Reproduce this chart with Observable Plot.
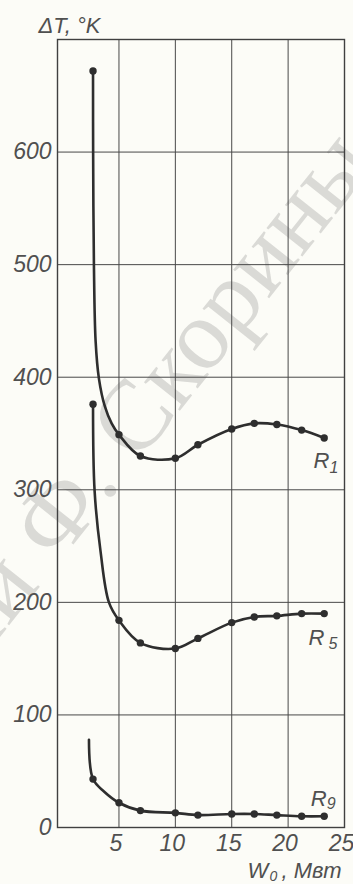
<!DOCTYPE html>
<html><head><meta charset="utf-8">
<script src="https://cdn.jsdelivr.net/npm/d3@7"></script>
<script src="https://cdn.jsdelivr.net/npm/@observablehq/plot@0.6"></script>
<style>html,body{margin:0;padding:0;background:#fcfcf7;overflow:hidden}</style>
</head><body><div id="chart"></div>
<script>
// Marked measurement points (W0, MW) and ΔT (°K) for each resistor curve
const W  = [2.7, 5, 6.9, 10, 12, 15, 17, 19, 21.2, 23.2];
const R1 = [672, 349, 330, 328, 340, 354, 359, 358, 353, 346];
const R5 = [376, 184, 164, 159, 168, 182, 187, 188, 190, 190];
const R9 = [43, 22, 15, 13, 11, 12, 12, 11, 10, 10];
// extra points (no markers there)
const R1traceW = [2.71, 2.78, 2.93, 3.22, 3.75, 4.35];
const R1traceT = [600, 500, 432, 399, 374, 359];
const R5traceW = [2.84, 3.37, 4.11];
const R5traceT = [299, 245, 200];
const R9traceW = [2.34, 3.67];
const R9traceT = [78, 32];
// tick labels
const xTicks = [5, 10, 15, 20, 25];
const yTicks = [0, 100, 200, 300, 400, 500, 600];
// curve labels
const labelMain = ["R", "R", "R"];
const labelSub = ["1", "5", "9"];
const labelW = [22.25, 21.8, 22.0];
const labelT = [319, 162, 18.7];
const yTitle = "ΔT, °K";
const xTitleMain = "W";
const xTitleSub = "0";
const xTitleUnit = ", Мвт";
const watermark = "имени Ф. Скорины";

const names = ["R1", "R5", "R9"];
const vals = [R1, R5, R9];
const traces = [[R1traceW, R1traceT], [R5traceW, R5traceT], [R9traceW, R9traceT]];
const dots = [];
const curve = [];
names.forEach((n, k) => {
  W.forEach((w, i) => { dots.push({s: n, W: w, T: vals[k][i]}); curve.push({s: n, W: w, T: vals[k][i]}); });
  traces[k][0].forEach((w, i) => curve.push({s: n, W: w, T: traces[k][1][i]}));
});
curve.sort((a, b) => a.s === b.s ? a.W - b.W : (a.s < b.s ? -1 : 1));
const labels = labelMain.map((m, i) => ({m, sub: labelSub[i], W: labelW[i], T: labelT[i]}));

const FONT = "'Liberation Sans', Arial, sans-serif";
const TXT = "#505050";
const subDx = [16, 20, 16];
const subDy = [5, 4, 3];

const plot = Plot.plot({
  width: 353, height: 884,
  marginTop: 39, marginBottom: 57, marginLeft: 57, marginRight: 9,
  x: {domain: [-0.45, 25]},
  y: {domain: [0, 700]},
  style: {background: "transparent", fontFamily: FONT, fontStyle: "italic", overflow: "hidden"},
  marks: [
    Plot.text([watermark], {frameAnchor: "top-left", dx: 319, dy: 124, rotate: -51.5, text: d => d,
      textAnchor: "end", lineAnchor: "bottom", fontSize: 100, fontFamily: "'Liberation Serif', serif",
      fontStyle: "normal", fill: "#666", fillOpacity: 0.22}),
    Plot.ruleX(xTicks.filter(d => d < 25), {stroke: "#484848", strokeWidth: 1}),
    Plot.ruleY(yTicks.filter(d => d > 0), {stroke: "#484848", strokeWidth: 1}),
    Plot.frame({stroke: "#404040", strokeWidth: 1.4}),
    Plot.axisY(yTicks, {tickSize: 0, tickPadding: 6, fontSize: 23, fill: TXT, label: null}),
    Plot.axisX(xTicks, {tickSize: 0, tickPadding: 7, fontSize: 23, dx: -3, fill: TXT, label: null}),
    Plot.line(curve, {x: "W", y: "T", z: "s", curve: "catmull-rom", stroke: "#2e2e2e", strokeWidth: 2.6}),
    Plot.dot(dots, {x: "W", y: "T", r: 3.7, fill: "#2e2e2e", stroke: "none"}),
    Plot.text(labels, {x: "W", y: "T", text: "m", textAnchor: "start", lineAnchor: "bottom", fontSize: 22, fill: TXT}),
    ...labels.map((l, i) => Plot.text([l], {x: "W", y: "T", text: "sub", textAnchor: "start", lineAnchor: "bottom",
      dx: subDx[i], dy: subDy[i], fontSize: 16, fill: TXT})),
    Plot.text([yTitle], {frameAnchor: "top-left", dx: -19, dy: -7, text: d => d, textAnchor: "start", lineAnchor: "bottom", fontSize: 22, fill: TXT}),
    Plot.text([xTitleMain], {frameAnchor: "bottom-left", dx: 190, dy: 50, text: d => d, textAnchor: "start", lineAnchor: "bottom", fontSize: 22, fill: TXT}),
    Plot.text([xTitleSub], {frameAnchor: "bottom-left", dx: 212, dy: 53, text: d => d, textAnchor: "start", lineAnchor: "bottom", fontSize: 14, fill: TXT}),
    Plot.text([xTitleUnit], {frameAnchor: "bottom-left", dx: 224, dy: 50, text: d => d, textAnchor: "start", lineAnchor: "bottom", fontSize: 22, fill: TXT})
  ]
});
document.getElementById("chart").appendChild(plot);
</script>
</body></html>
